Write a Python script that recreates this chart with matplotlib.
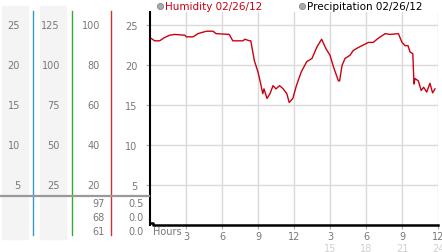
import matplotlib
matplotlib.use("Agg")
import matplotlib.pyplot as plt
import matplotlib.transforms as mtransforms
from matplotlib.lines import Line2D
from matplotlib.patches import Rectangle

# --- data ---
hours = [0, 0.39, 0.8, 1.2, 1.64, 2.05, 2.9, 3.03, 3.6, 4.0, 4.7, 5.25, 5.5, 6.6,
         6.9, 7.75, 7.9, 8.3, 8.4, 8.7, 9.0, 9.2, 9.4, 9.5, 9.75, 10.0, 10.25, 10.5,
         10.8, 11.1, 11.4, 11.6, 11.9, 12.2, 12.6, 13.06, 13.5, 13.9, 14.3, 14.67,
         15.0, 15.3, 15.7, 15.8, 16.0, 16.25, 16.67, 16.94, 17.4, 17.8, 18.2, 18.6,
         19.0, 19.6, 20.0, 20.7, 21.0, 21.25, 21.5, 21.67, 21.9, 22.0, 22.08, 22.36,
         22.6, 22.8, 23.06, 23.33, 23.55, 23.75]
humidity = [23.4, 23.0, 23.0, 23.4, 23.7, 23.8, 23.7, 23.5, 23.5, 23.9, 24.2, 24.2,
            23.9, 23.8, 23.0, 23.0, 23.2, 23.0, 23.0, 20.5, 19.1, 17.8, 16.4, 17.0,
            15.8, 16.4, 17.4, 17.0, 17.4, 17.0, 16.4, 15.3, 15.8, 17.4, 19.1, 20.4,
            20.8, 22.2, 23.2, 22.0, 21.2, 19.7, 18.0, 18.0, 19.9, 20.8, 21.2, 21.8,
            22.2, 22.5, 22.8, 22.8, 23.3, 23.9, 23.8, 23.9, 22.8, 22.4, 22.4, 21.6,
            21.4, 17.6, 18.3, 18.0, 16.8, 17.2, 16.6, 17.7, 16.5, 17.0]
precip_hours = [0, 0.25, 0.25, 24]
precipitation = [0.3, 0.3, 0, 0]

y_ticks = [5, 10, 15, 20, 25]
col1_labels = ["5", "10", "15", "20", "25"]
col2_labels = ["25", "50", "75", "100", "125"]
col3_labels = ["20", "40", "60", "80", "100"]
x_ticks = [3, 6, 9, 12, 15, 18, 21, 24]
x_labels = ["3", "6", "9", "12", "3", "6", "9", "12"]
x_labels2 = ["15", "18", "21", "24"]
humidity_stats = ["97", "68", "61"]
precip_stats = ["0.5", "0.0", "0.0"]

W, H = 442, 253
def fx(px):
    return px / W
def fy(py):
    return 1 - py / H

txt = "#777777"
plt.rcParams['font.family'] = ['DejaVu Sans']

fig = plt.figure(figsize=(W / 100, H / 100), dpi=100)
ax = fig.add_axes([fx(150), fy(226), (438 - 150) / W, (226 - 13) / H])

ax.plot(hours, humidity, color="#cc0011", lw=1)
ax.plot(precip_hours, precipitation, color="black", lw=1.8, clip_on=False)

ax.set_xlim(0, 24)
ax.set_ylim(0, 26.6)
ax.set_xticks(x_ticks)
ax.set_xticklabels(x_labels)
ax.set_yticks(y_ticks)
ax.set_yticklabels(col1_labels)
ax.grid(True, color="#d9d9d9", lw=1)
ax.set_axisbelow(True)
ax.tick_params(axis="both", colors="#aaaaaa", labelcolor=txt, labelsize=7,
               length=3, width=0.8)
ax.tick_params(axis="y", pad=6)
ax.tick_params(axis="x", pad=1)
for s in ["top", "right", "bottom"]:
    ax.spines[s].set_visible(False)
ax.spines["left"].set_color("black")
ax.spines["left"].set_linewidth(1.5)

# light secondary hour labels
xt = mtransforms.blended_transform_factory(ax.transData, fig.transFigure)
for h, lab in zip(x_ticks[4:], x_labels2):
    ax.text(h, fy(249), lab, transform=xt, ha="center", va="center",
            fontsize=7, color="#d0d0d0")
fig.text(fx(153), fy(232), "Hours", ha="left", va="center", fontsize=7, color=txt)

# left-hand scale columns
fig.add_artist(Rectangle((fx(2), fy(240)), fx(26), (240 - 7) / H,
                         transform=fig.transFigure, color="#f4f4f4", zorder=0))
fig.add_artist(Rectangle((fx(40), fy(240)), fx(26), (240 - 7) / H,
                         transform=fig.transFigure, color="#f4f4f4", zorder=0))
yt = mtransforms.blended_transform_factory(fig.transFigure, ax.transData)
for v, a, b, c in zip(y_ticks, col1_labels, col2_labels, col3_labels):
    fig.text(fx(20), v, a, transform=yt, ha="right", va="center", fontsize=7, color=txt)
    fig.text(fx(60), v, b, transform=yt, ha="right", va="center", fontsize=7, color=txt)
    fig.text(fx(100), v, c, transform=yt, ha="right", va="center", fontsize=7, color=txt)

for xp, col in [(33, "#3399cc"), (72, "#33aa33"), (111, "#cc3333")]:
    fig.add_artist(Line2D([fx(xp), fx(xp)], [fy(12), fy(236)],
                          transform=fig.transFigure, color=col, lw=1))
fig.add_artist(Line2D([0, fx(149)], [fy(197), fy(197)],
                      transform=fig.transFigure, color="#999999", lw=1.6))

for yp, a, b in zip([204, 218, 232], humidity_stats, precip_stats):
    fig.text(fx(105), fy(yp), a, ha="right", va="center", fontsize=7, color=txt)
    fig.text(fx(144), fy(yp), b, ha="right", va="center", fontsize=7, color=txt)

# legend line at the top
for xp, label, col in [(160, "Humidity 02/26/12", "#cc0011"),
                       (302, "Precipitation 02/26/12", "black")]:
    fig.add_artist(Line2D([fx(xp)], [fy(7)], transform=fig.transFigure, marker="o",
                          markersize=4.5, markerfacecolor="#aaaaaa",
                          markeredgecolor="#888888", markeredgewidth=0.6))
    fig.text(fx(xp + 5), fy(7), label, ha="left", va="center", fontsize=7.5, color=col)

fig.savefig("out.png", dpi=100)
